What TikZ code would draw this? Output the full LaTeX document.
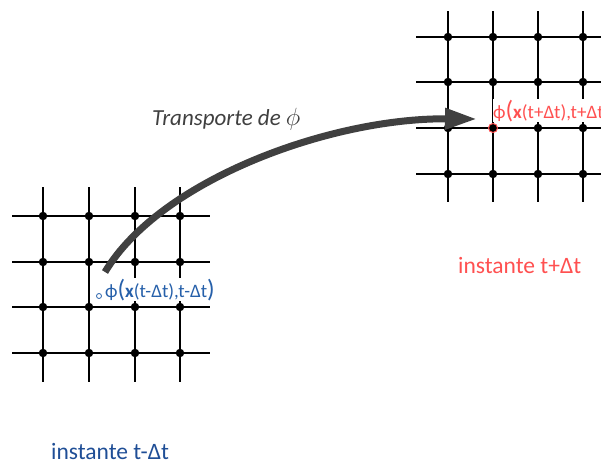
\documentclass[tikz,border=0pt]{standalone}
\usepackage{fontspec}
\setmainfont{Carlito}
\usetikzlibrary{arrows.meta}
\definecolor{lblue}{RGB}{38,96,170}
\definecolor{dblue}{RGB}{31,78,150}
\definecolor{lred}{RGB}{255,80,80}
\definecolor{agray}{RGB}{64,64,64}
\tikzset{
  gridline/.style={black, line width=1.1pt},
  gdot/.style={circle, fill=black, inner sep=0pt, minimum size=8.5pt},
  lbl/.style={inner sep=0pt, anchor=base west, font=\fontsize{19}{19}\selectfont},
  big/.style={},
}
\newcommand{\bigpar}[1]{{\fontsize{25}{25}\selectfont #1}}
\begin{document}
\begin{tikzpicture}[x=1pt,y=-1pt]
\useasboundingbox (0,0) rectangle (601,466);
% left grid
\foreach \y in {216,262,307,353} \draw[gridline] (12,\y) -- (210,\y);
\foreach \x in {43,89,135,180} \draw[gridline] (\x,187) -- (\x,382);
\foreach \x in {43,89,135,180} \foreach \y in {216,262,307,353} \node[gdot] at (\x,\y) {};
% right grid
\foreach \y in {37,82,128,174} \draw[gridline] (416,\y) -- (605,\y);
\foreach \x in {448,493,538,583} \draw[gridline] (\x,11) -- (\x,202);
\foreach \x in {448,493,538,583} \foreach \y in {37,82,174} \node[gdot] at (\x,\y) {};
\foreach \x in {448,538,583} \node[gdot] at (\x,128) {};
% labels with white background
\node[lbl, text=lblue, fill=white, inner ysep=1pt] (l1) at (105,297) {ϕ\bigpar{(}\textbf{x}(t-Δt),t-Δt\bigpar{)}};
\node[lbl, text=lred, fill=white, inner ysep=1pt] (l2) at (493,118) {ϕ\bigpar{(}\textbf{x}(t+Δt),t+Δt\bigpar{)}};
\node[circle, fill=black, draw=lred, line width=1pt, inner sep=0pt, minimum size=9pt] (tgt) at (493,128) {};
% source point
\node[circle, draw=lblue, line width=0.8pt, inner sep=0pt, minimum size=5pt] (src) at (99,296) {};
% arrow
\coordinate (a0) at (105,272);
\coordinate (a1) at (477,119);
\draw[agray, line width=7pt, -{Triangle[length=32pt,width=20pt]}] (a0) .. controls (160,180) and (330,118) .. (a1);
% other labels
\node[lbl, text=agray, font=\fontsize{23}{23}\selectfont\itshape] (tr) at (152,125) {Transporte de $\phi$};
\node[lbl, text=dblue, font=\fontsize{23.5}{23.5}\selectfont] (i1) at (51,459) {instante t-Δt};
\node[lbl, text=lred, font=\fontsize{23.5}{23.5}\selectfont] (i2) at (458,273) {instante t+Δt};
\end{tikzpicture}
\end{document}
